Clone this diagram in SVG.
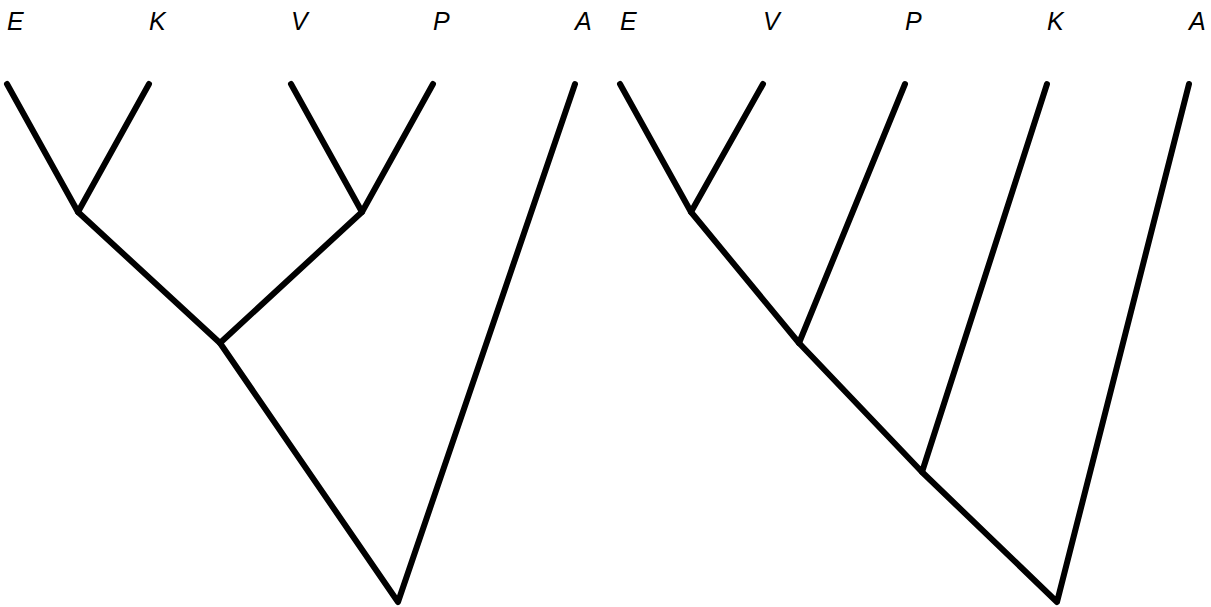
<svg xmlns="http://www.w3.org/2000/svg" width="1211" height="607" viewBox="0 0 1211 607">
<style>
.lbl{font-family:"Liberation Sans",Arial,sans-serif;font-style:italic;font-size:25px;fill:#000}
.br{fill:none;stroke:#000;stroke-width:6;stroke-linecap:round;stroke-linejoin:round}
</style>
<rect width="1211" height="607" fill="#fff"/>
<g id="labels-left">
<text class="lbl" x="7" y="30">E</text>
<text class="lbl" x="149" y="30">K</text>
<text class="lbl" x="291" y="30">V</text>
<text class="lbl" x="433" y="30">P</text>
<text class="lbl" x="575" y="30">A</text>
</g>
<g id="labels-right">
<text class="lbl" x="620" y="30">E</text>
<text class="lbl" x="763" y="30">V</text>
<text class="lbl" x="905" y="30">P</text>
<text class="lbl" x="1047" y="30">K</text>
<text class="lbl" x="1189" y="30">A</text>
</g>
<g id="connectors">
<polyline class="br" points="7,84 78,212 149,84"/>
<polyline class="br" points="291,84 362,212 433,84"/>
<polyline class="br" points="78,212 220,343 362,212"/>
<polyline class="br" points="220,343 398,602 575,84"/>
<polyline class="br" points="620,84 691,212 763,84"/>
<polyline class="br" points="691,212 799,343 905,84"/>
<polyline class="br" points="799,343 922,472 1047,84"/>
<polyline class="br" points="922,472 1057,602 1189,84"/>
</g>
</svg>
